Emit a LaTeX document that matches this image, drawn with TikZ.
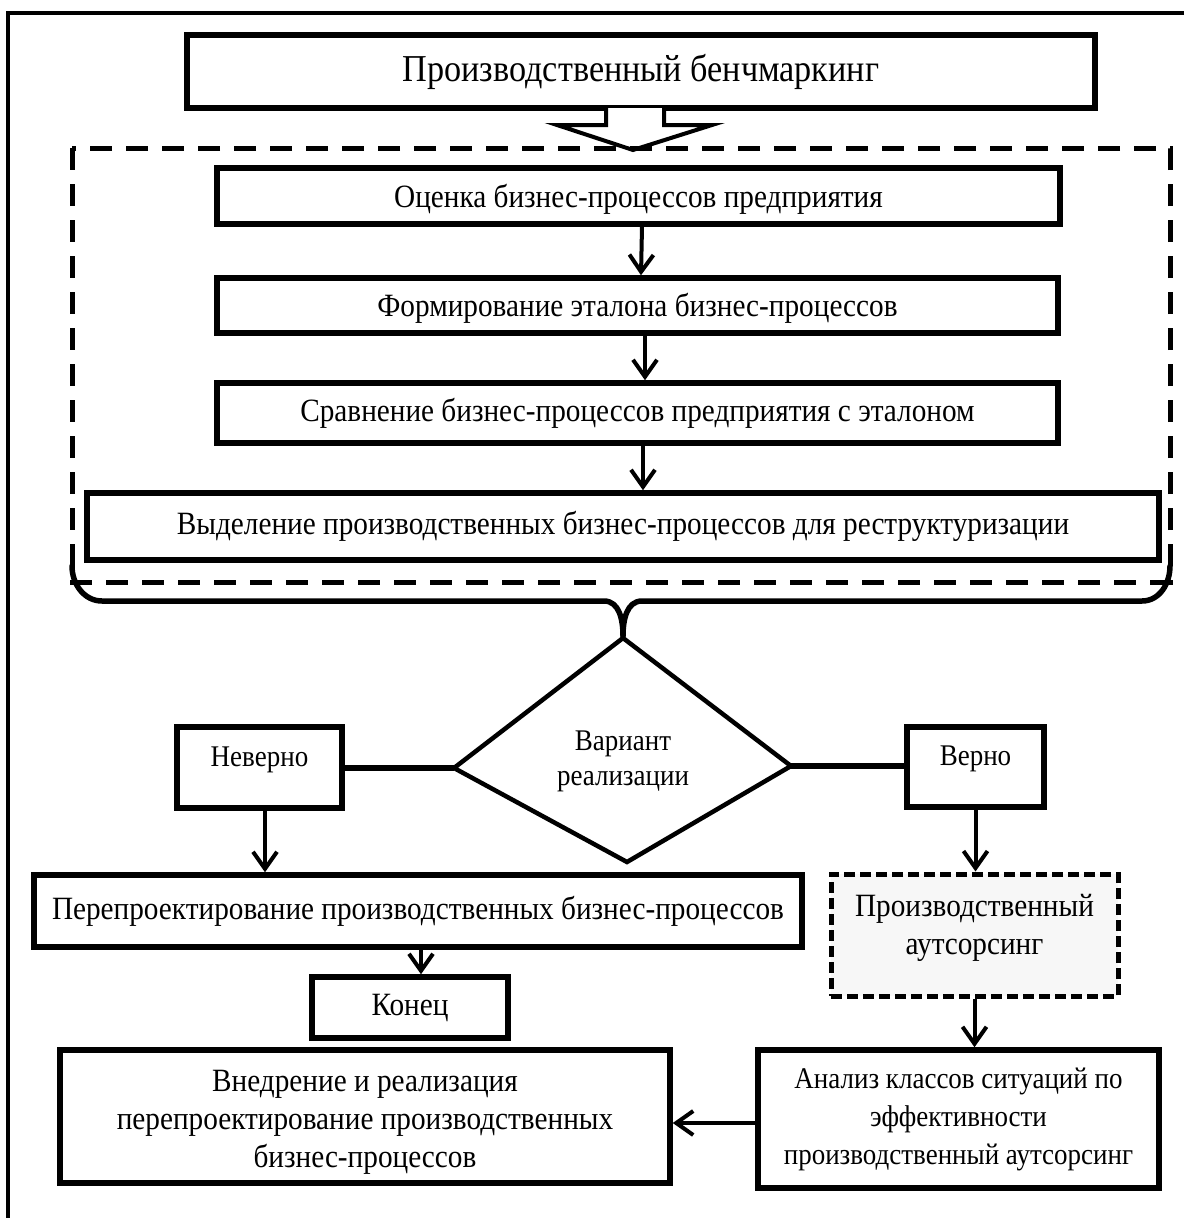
\documentclass[tikz,border=0pt]{standalone}
\usepackage{fontspec}
\setmainfont[FakeStretch=0.9]{Liberation Serif}
\usetikzlibrary{arrows.meta,shapes.geometric}
\newcommand{\upby}[2]{\raisebox{#1}[\height][\depth]{#2}}
\begin{document}
\begin{tikzpicture}[x=1pt,y=-1pt,
  box/.style={draw,rectangle,line width=5.5pt,inner sep=0pt,align=center,
    font=\fontsize{32.5}{38}\selectfont},
  dashbox/.style={box,fill=gray!6,dash pattern=on 11pt off 5pt,line width=5pt},
  arr/.style={line width=4pt,-{Straight Barb[length=17pt,width=24pt]}},
  thickline/.style={line width=5.5pt},
  frame/.style={line width=4pt},
  bracestyle/.style={line width=5.5pt,line cap=round,line join=round},
  bigdash/.style={line width=5pt,dash pattern=on 22pt off 14pt},
]
\useasboundingbox (0,0) rectangle (1184,1218);

% outer frame (partly visible)
\draw[frame] (1184,13) -- (8,13) -- (8,1218);

% boxes
\node[box,minimum width=908pt,minimum height=73pt,font=\fontsize{38}{44}\selectfont] (b1) at (641,71.5) {Производственный бенчмаркинг};
\node[box,minimum width=843pt,minimum height=56pt] (b2) at (638.5,196) {\upby{-3pt}{Оценка бизнес-процессов предприятия}};
\node[box,minimum width=841pt,minimum height=55pt] (b3) at (637.5,305.5) {\upby{-3pt}{Формирование эталона бизнес-процессов}};
\node[box,minimum width=841pt,minimum height=60pt] (b4) at (637.5,413) {Сравнение бизнес-процессов предприятия с эталоном};
\node[box,minimum width=1072pt,minimum height=67pt] (b5) at (623,526.5) {Выделение производственных бизнес-процессов для реструктуризации};

% hollow arrow
\draw[line width=4pt,fill=white,line join=miter] (606,108) -- (606,125) -- (557,125) -- (633,150) -- (712,125) -- (664,125) -- (664,108);

% dashed group frame
\draw[bigdash] (72,148) rectangle (1170,582);

% brace
\coordinate (dT) at (623,638);
\draw[bracestyle] (72,566) to[out=-90,in=180] (102,601) -- (604,601) to[out=0,in=90] (623,636);
\draw[bracestyle] (1170,566) to[out=-90,in=0] (1142,601) -- (642,601) to[out=180,in=90] (623,636);

% arrows in the group
\draw[arr] ([xshift=3.5pt]b2.south) -- ([xshift=3.5pt]b3.north);
\draw[arr] ([xshift=7.5pt]b3.south) -- ([xshift=7.5pt]b4.north);
\draw[arr] ([xshift=5.5pt]b4.south) -- ([xshift=5.5pt]b4.south |- b5.north);

% decision diamond
\coordinate (dR) at (791,766);
\coordinate (dB) at (627,862);
\coordinate (dL) at (454,768);
\draw[line width=4.5pt,line join=miter] (dT) -- (dR) -- (dB) -- (dL) -- cycle;
\node[align=center,font=\fontsize{30}{35}\selectfont] (dtext) at (623,761) {Вариант\\реализации};

\node[box,minimum width=165pt,minimum height=81pt,font=\fontsize{30}{35}\selectfont] (neverno) at (259.5,767.5) {\upby{8pt}{Неверно}};
\node[box,minimum width=137pt,minimum height=80pt,font=\fontsize{30}{35}\selectfont] (verno) at (975.5,767) {\upby{8pt}{Верно}};
\draw[thickline] (neverno.east |- dL) -- (dL);
\draw[thickline] (dR) -- (verno.west |- dR);

\node[box,minimum width=768pt,minimum height=72pt] (perep) at (418,911) {Перепроектирование производственных бизнес-процессов};
\node[dashbox,minimum width=287pt,minimum height=122pt] (outs) at (974.5,935) {\upby{7pt}{Производственный}\\\upby{7pt}{аутсорсинг}};
\node[box,minimum width=196pt,minimum height=61pt] (konets) at (410,1007.5) {Конец};
\node[box,minimum width=610pt,minimum height=133pt] (vnedr) at (365,1116.5) {\upby{-6pt}{Внедрение и реализация}\\\upby{-6pt}{перепроектирование производственных}\\\upby{-6pt}{бизнес-процессов}};
\node[box,minimum width=401pt,minimum height=138pt,font=\fontsize{30}{38}\selectfont] (anal) at (958.5,1119) {Анализ классов ситуаций по\\эффективности\\производственный аутсорсинг};

\draw[arr] ([xshift=5.5pt]neverno.south) -- ([xshift=5.5pt]neverno.south |- perep.north);
\draw[arr] (verno.south) -- (verno.south |- outs.north);
\draw[arr] ([xshift=11pt]konets.north |- perep.south) -- ([xshift=11pt]konets.north);
\draw[arr] (outs.south) -- (outs.south |- anal.north);
\draw[arr] ([yshift=-4pt]anal.west) -- ([yshift=-4pt]anal.west -| vnedr.east);
\end{tikzpicture}
\end{document}
